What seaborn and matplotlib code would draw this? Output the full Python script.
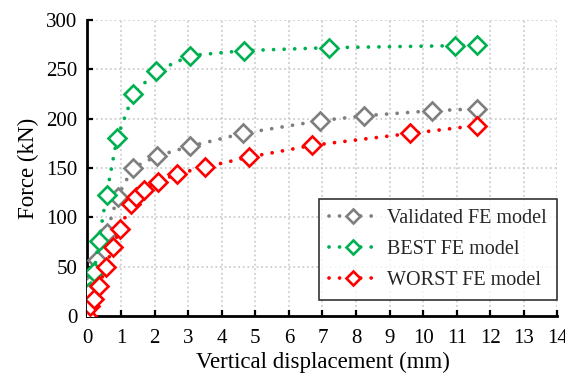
import matplotlib
matplotlib.use("Agg")
import matplotlib.pyplot as plt
import seaborn as sns
import pandas as pd

# Load–displacement curves of the three finite element models
validated_disp = [0.0, 0.1, 0.28, 0.57, 0.9, 1.35, 2.06, 3.05, 4.62, 6.94, 8.24, 10.25, 11.59]
validated_force = [17, 33, 57, 84, 121, 150, 162, 172, 185, 198, 203, 208, 210]

best_disp = [0.02, 0.2, 0.34, 0.57, 0.88, 1.37, 2.05, 3.07, 4.67, 7.2, 10.95, 11.6]
best_force = [23, 45, 76, 123, 180, 225, 248, 264, 269, 272, 274, 274.5]

worst_disp = [0.0, 0.08, 0.2, 0.35, 0.55, 0.75, 0.97, 1.3, 1.46, 1.68, 2.1, 2.67,
              3.5, 4.8, 6.7, 9.6, 11.6]
worst_force = [0, 10, 17, 30, 50, 70, 88, 114, 121, 128, 136, 144,
               151, 161, 173, 185, 193]

series_names = ["Validated FE model", "BEST FE model", "WORST FE model"]
series_colors = ["#7f7f7f", "#00b050", "#ff0000"]

frames = []
for name, xs, ys in zip(series_names,
                        [validated_disp, best_disp, worst_disp],
                        [validated_force, best_force, worst_force]):
    frames.append(pd.DataFrame({"disp": xs, "force": ys, "model": name}))
data = pd.concat(frames, ignore_index=True)

sns.set_theme(style="white")
plt.rcParams["font.family"] = ["Liberation Serif", "DejaVu Serif"]
plt.rcParams["font.size"] = 15

fig = plt.figure(figsize=(5.65, 3.78), dpi=100)
ax = fig.add_axes([0.1547, 0.164, 0.832, 0.783])

dot_style = (0, (0.01, 2.8))

for name, color in zip(series_names, series_colors):
    sub = data[data["model"] == name]
    sns.lineplot(data=sub, x="disp", y="force", ax=ax, color=color,
                 label=name, sort=False, estimator=None,
                 marker="D", markersize=9, markerfacecolor="white",
                 markeredgecolor=color, markeredgewidth=1.9,
                 linewidth=2.7, dashes=False, zorder=3)

# Dotted round-cap lines
for line in ax.get_lines():
    line.set_linestyle(dot_style)
    line.set_dash_capstyle("round")

ax.set_xlim(0, 14)
ax.set_ylim(0, 300)
ax.set_xticks(range(0, 15))
ax.set_yticks(range(0, 301, 50))
ax.set_xlabel("Vertical displacement (mm)", fontsize=16.5, color="black", labelpad=3)
ax.set_ylabel("Force (kN)", fontsize=16.5, color="black", labelpad=5)

ax.grid(True, linestyle=(0, (1.2, 1.8)), color="#c6c6c6", linewidth=1.1)
ax.set_axisbelow(True)
for side in ["top", "right"]:
    ax.spines[side].set_visible(False)
for side in ["left", "bottom"]:
    ax.spines[side].set_visible(True)
    ax.spines[side].set_color("black")
    ax.spines[side].set_linewidth(2.0)

ax.tick_params(axis="both", direction="in", length=4, width=1.6, colors="black",
               labelsize=15, left=True, bottom=True)
ax.tick_params(axis="y", pad=7)
ax.tick_params(axis="x", pad=9)

leg = ax.legend(loc="lower right", bbox_to_anchor=(0.998, 0.054), borderaxespad=0,
                frameon=True, fancybox=False, edgecolor="black", fontsize=14.5,
                handlelength=2.4, borderpad=0.5, labelspacing=0.58,
                handletextpad=0.45, markerscale=0.75)
leg.get_frame().set_linewidth(1.2)
for h in leg.get_lines():
    h.set_linestyle(dot_style)
    h.set_dash_capstyle("round")

fig.savefig("out.png", dpi=100, facecolor="white")
